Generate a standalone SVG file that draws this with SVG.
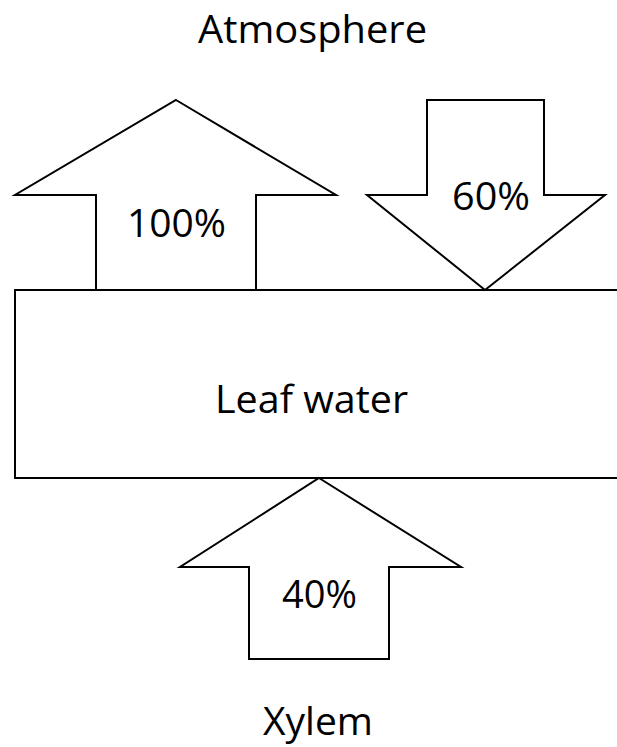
<svg xmlns="http://www.w3.org/2000/svg" width="617" height="747" viewBox="0 0 617 747">
  <style>
    .shape { fill: #ffffff; stroke: #000000; stroke-width: 2; stroke-linejoin: miter; }
    .label { font-family: "Open Sans", "Noto Sans", sans-serif; font-size: 39px; fill: #000000; }
  </style>
  <rect x="0" y="0" width="617" height="747" fill="#ffffff"/>

  <!-- Outer labels -->
  <g id="atmosphere">
    <text class="label" x="198" y="43" textLength="229" lengthAdjust="spacingAndGlyphs">Atmosphere</text>
  </g>
  <g id="xylem">
    <text class="label" x="263" y="735" textLength="110" lengthAdjust="spacingAndGlyphs">Xylem</text>
  </g>

  <!-- Central pool -->
  <g id="leaf-water">
    <rect class="shape" x="15" y="290" width="610" height="188"/>
    <text class="label" x="215" y="413" textLength="193" lengthAdjust="spacingAndGlyphs">Leaf water</text>
  </g>

  <!-- Flux arrows -->
  <g id="connectors">
    <g id="flux-out">
      <polygon class="shape" points="176,100 336,195 256,195 256,290 96,290 96,195 15,195"/>
      <text class="label" x="127" y="237" textLength="99" lengthAdjust="spacingAndGlyphs">100%</text>
    </g>
    <g id="flux-in">
      <polygon class="shape" points="427,100 544,100 544,195 605,195 485,290 367,195 427,195"/>
      <text class="label" x="452" y="210" textLength="78" lengthAdjust="spacingAndGlyphs">60%</text>
    </g>
    <g id="flux-xylem">
      <polygon class="shape" points="319,478 461,567 389,567 389,659 249,659 249,567 180,567"/>
      <text class="label" x="282" y="608" textLength="75" lengthAdjust="spacingAndGlyphs">40%</text>
    </g>
  </g>
</svg>
